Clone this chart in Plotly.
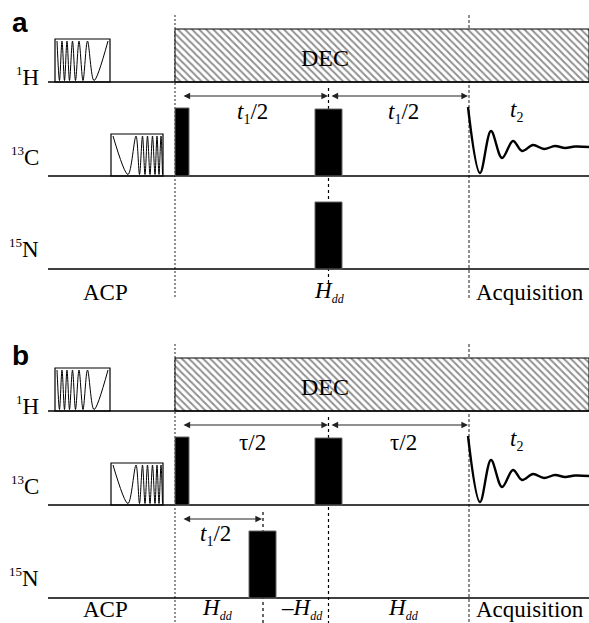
import plotly.graph_objects as go

W, H = 589, 623

# ---------------- text content ----------------
def sub(s, size=12, italic=False):
    inner = "<i>%s</i>" % s if italic else s
    return "<sub><span style='font-size:%dpx'>%s</span></sub>" % (size, inner)


panel_letters = ["a", "b"]
channel_labels = ["<sup><span style='font-size:13px'>1</span></sup>H",
                  "<sup><span style='font-size:13px'>13</span></sup>C",
                  "<sup><span style='font-size:13px'>15</span></sup>N"]
T1HALF = "<i>t</i>" + sub("1", 14) + "/2"
HDD = "<i>H</i>" + sub("dd", 12, italic=True)
delay_labels = {
    "a": [T1HALF, T1HALF],
    "b": ["τ/2", "τ/2"],
}
acq_label = "<i>t</i>" + sub("2", 14)
dec_label = "DEC"
period_labels = {
    "a": ["ACP", HDD, "Acquisition"],
    "b": ["ACP", HDD, "–" + HDD, HDD, "Acquisition"],
}
t1_label_b = T1HALF

# ---------------- geometry (pixel space) ----------------
panel_offset = [0, 329]
baselines = [82, 176, 269]           # 1H, 13C, 15N (panel a)
x_start = 48
x_acp_end = 175
x_mid = 328.5
x_acq = 469
x_end = 589
x_t1b = 263

# pulses: (x0, x1, channel index, top y) relative to panel a
pulses = {
    "a": [(175, 189, 1, 108), (315, 342, 1, 109), (315, 342, 2, 202)],
    "b": [(175, 189, 1, 108), (315, 342, 1, 109), (249, 276, 2, 202)],
}
# ACP boxes: (x0, x1, channel, top)
acp_boxes = [(55, 110, 0, 39), (111, 163, 1, 134)]

# ramped CP waveforms: extrema (x, level 1=top 0=bottom)
chirp_H_x = [57, 59.5, 62, 64.5, 67, 69.5, 72.5, 75.5, 79, 83, 87.5, 94, 108]
chirp_H_lv = [1, 0, 1, 0, 1, 0, 1, 0, 1, 0, 1, 0, 1]
chirp_C_x = [113, 128, 136, 139.5, 142.5, 145, 147.5, 150, 152.5, 155, 157, 159, 161, 162.5]
chirp_C_lv = [1, 0, 1, 0, 1, 0, 1, 0, 1, 0, 1, 0, 1, 0]

# FID (panel a coordinates)
fid_x = [468, 480, 491, 502, 513, 522, 533, 544, 555, 565, 575, 589]
fid_y = [107, 173, 131, 158, 141, 151, 145, 149, 146, 148, 146.5, 147]

fig = go.Figure()
shapes = []
ann = []

SERIF = "Liberation Serif"
FS = 23


def text(x, y, s, size=FS, family=SERIF, xanchor="center", color="black"):
    ann.append(dict(x=x, y=y, xref="x", yref="y", text=s, showarrow=False,
                    xanchor=xanchor, yanchor="middle",
                    font=dict(family=family, size=size, color=color)))


def vline(x, y0, y1, color="black", dash="3px,3px", width=1.2):
    shapes.append(dict(type="line", x0=x, x1=x, y0=y0, y1=y1, xref="x", yref="y",
                       line=dict(color=color, width=width, dash=dash), layer="below"))


def arrow(x0, x1, y):
    ann.append(dict(x=x1, y=y, ax=x0, ay=y, xref="x", yref="y", axref="x", ayref="y",
                    showarrow=True, arrowhead=2, arrowside="end+start",
                    arrowsize=1.1, arrowwidth=1.2, arrowcolor="#222", text="",
                    standoff=0, startstandoff=0))


for p, letter in enumerate(panel_letters):
    off = panel_offset[p]
    bl = [b + off for b in baselines]
    bottom = 298 if p == 0 else H

    # vertical timing lines
    vline(x_acp_end, 15 + off, bottom, color="#777", dash="2px,2px", width=1.6)
    vline(x_acq, 15 + off, bottom, color="#333", dash="3px,2px", width=1.1)
    vline(x_mid, 88 + off, 285 if p == 0 else H, color="black", dash="3px,3px", width=1.2)
    if letter == "b":
        vline(x_t1b, 512, H, color="black", dash="3px,3px", width=1.2)

    # baselines
    for b in bl:
        shapes.append(dict(type="line", x0=x_start, x1=x_end, y0=b, y1=b, xref="x", yref="y",
                           line=dict(color="black", width=1.5)))

    # DEC hatched box
    fig.add_trace(go.Scatter(
        x=[x_acp_end, x_end, x_end, x_acp_end, x_acp_end],
        y=[29 + off, 29 + off, bl[0], bl[0], 29 + off],
        mode="lines", fill="toself", line=dict(color="black", width=1),
        fillcolor="white",
        fillpattern=dict(shape="\\", size=5, solidity=0.4, fgcolor="#222", bgcolor="white"),
        hoverinfo="skip", showlegend=False))

    # ACP boxes + waveforms
    for (x0, x1, ch, top), (cx, clv) in zip(acp_boxes, [(chirp_H_x, chirp_H_lv), (chirp_C_x, chirp_C_lv)]):
        shapes.append(dict(type="rect", x0=x0, x1=x1, y0=top + off, y1=bl[ch], xref="x", yref="y",
                           line=dict(color="black", width=1.2), fillcolor="white", layer="below"))
        ytop = top + off + 2
        ybot = bl[ch] - 1.5
        fig.add_trace(go.Scatter(x=cx, y=[ytop if v else ybot for v in clv], mode="lines",
                                 line=dict(color="black", width=1, shape="spline", smoothing=0.9),
                                 hoverinfo="skip", showlegend=False))

    # pulses
    for (x0, x1, ch, top) in pulses[letter]:
        shapes.append(dict(type="rect", x0=x0, x1=x1, y0=top + off, y1=bl[ch], xref="x", yref="y",
                           line=dict(color="#666", width=1), fillcolor="black"))

    # FID
    fig.add_trace(go.Scatter(x=fid_x, y=[v + off for v in fid_y], mode="lines",
                             line=dict(color="black", width=2.4, shape="spline", smoothing=1.0),
                             hoverinfo="skip", showlegend=False))

    # arrows
    arrow(182, 328, 96 + off)
    arrow(330, 468, 96 + off)
    if letter == "b":
        arrow(182, 262, 519)

    # labels
    text(20, 22 + off + (4 if p else 0), "<b>%s</b>" % letter, size=28, family="Liberation Sans")
    for ch, lab in enumerate(channel_labels):
        ycap = [76, 156, 248][ch] + off
        text(41, ycap, lab, xanchor="right")
    text(325, 58 + off, dec_label, size=24)
    dl = delay_labels[letter]
    text(252, 113 + off, dl[0])
    text(403, 113 + off, dl[1])
    text(516, 111 + off, acq_label)

    if letter == "a":
        xs = [105, 329, 530]
        yl = 292
    else:
        xs = [105, 217, 302, 403, 530]
        yl = 609
        text(215, 535, t1_label_b)
    for x, lab in zip(xs, period_labels[letter]):
        text(x, yl, lab)

fig.update_layout(
    width=W, height=H, margin=dict(l=0, r=0, t=0, b=0),
    paper_bgcolor="white", plot_bgcolor="white",
    xaxis=dict(range=[0, W], visible=False, fixedrange=True),
    yaxis=dict(range=[H, 0], visible=False, fixedrange=True),
    shapes=shapes, annotations=ann, showlegend=False,
)
fig.write_html("out.html", config={"displayModeBar": False},
               post_script="document.body.style.margin='0';document.body.style.padding='0';")
